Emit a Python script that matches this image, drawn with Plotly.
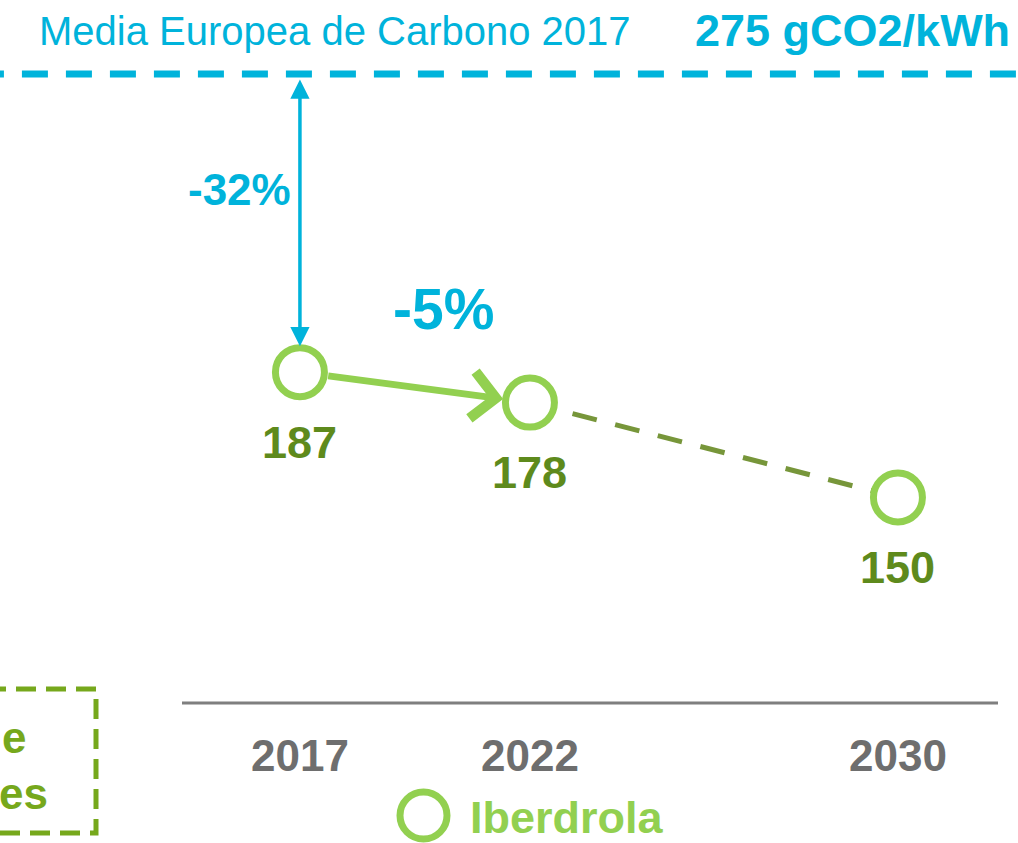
import plotly.graph_objects as go

# ---- data ----
years = [2017, 2022, 2030]
year_labels = ["2017", "2022", "2030"]
intensity = [187, 178, 150]          # gCO2/kWh Iberdrola
eu_avg_2017 = 275                     # gCO2/kWh European average 2017
eu_avg_label = "Media Europea de Carbono 2017"
eu_avg_value_label = "275 gCO2/kWh"
gap_label = "-32%"
change_label = "-5%"
series_name = "Iberdrola"

# ---- styles ----
FONT = "Liberation Sans, Arial, sans-serif"
CYAN = "#00B3DB"
LGREEN = "#92D050"
DGREEN = "#5E8A1C"
OLIVE = "#77963A"
GRAY = "#6E6E6E"
BOXGREEN = "#76A81C"

W, H = 1018, 843

fig = go.Figure()

# European average reference line
fig.add_trace(go.Scatter(
    x=[2010.0, 2033.0], y=[eu_avg_2017, eu_avg_2017], mode="lines",
    line=dict(color=CYAN, width=7, dash="26px,18px"), hoverinfo="skip",
))

# projected dashed segment 2022 -> 2030
fig.add_trace(go.Scatter(
    x=years[1:], y=intensity[1:], mode="lines",
    line=dict(color=OLIVE, width=5, dash="25px,19px"), hoverinfo="skip",
))

# markers
fig.add_trace(go.Scatter(
    x=years, y=intensity, mode="markers", name=series_name,
    marker=dict(symbol="circle", size=49, color="white",
                line=dict(color=LGREEN, width=7)),
))

ann = []
# value labels under markers
for x, v in zip(years, intensity):
    ann.append(dict(x=x, y=v, xref="x", yref="y", text=f"<b>{v}</b>",
                    showarrow=False, yshift=-70, yanchor="middle", xanchor="center",
                    font=dict(family=FONT, size=45, color=DGREEN)))

# -32% double arrow from EU line to 2017 point
ann.append(dict(x=years[0], y=intensity[0], ax=years[0], ay=eu_avg_2017,
                xref="x", yref="y", axref="x", ayref="y", text="",
                showarrow=True, arrowhead=2, startarrowhead=2, arrowside="end+start",
                arrowcolor=CYAN, arrowwidth=3.5, arrowsize=1.1, startarrowsize=1.1,
                standoff=26, startstandoff=4))
ann.append(dict(x=years[0], y=(eu_avg_2017 + intensity[0]) / 2, xref="x", yref="y",
                text=f"<b>{gap_label}</b>", showarrow=False, xshift=-60, yshift=34,
                xanchor="center", yanchor="middle",
                font=dict(family=FONT, size=44, color=CYAN)))

# -5% arrow 2017 -> 2022
ann.append(dict(x=years[1], y=intensity[1], ax=years[0], ay=intensity[0],
                xref="x", yref="y", axref="x", ayref="y", text="",
                showarrow=True, arrowhead=4, arrowcolor=LGREEN, arrowwidth=7,
                arrowsize=1.3, standoff=27, startstandoff=27))
ann.append(dict(x=(years[0] + years[1]) / 2, y=(intensity[0] + intensity[1]) / 2,
                xref="x", yref="y", text=f"<b>{change_label}</b>", showarrow=False,
                xshift=29, yshift=78, xanchor="center", yanchor="middle",
                font=dict(family=FONT, size=57, color=CYAN)))

# header texts
ann.append(dict(x=335 / W, y=1 - 31 / H, xref="paper", yref="paper",
                xanchor="center", yanchor="middle",
                text=eu_avg_label, showarrow=False,
                font=dict(family=FONT, size=40, color=CYAN)))
ann.append(dict(x=1012 / W, y=1 - 31 / H, xref="paper", yref="paper",
                xanchor="right", yanchor="middle",
                text=f"<b>{eu_avg_value_label}</b>", showarrow=False,
                font=dict(family=FONT, size=45, color=CYAN)))

# year tick labels
for x, t in zip(years, year_labels):
    ann.append(dict(x=x, y=1 - 755 / H, xref="x", yref="paper", text=f"<b>{t}</b>",
                    xanchor="center", yanchor="middle",
                    showarrow=False, font=dict(family=FONT, size=44, color=GRAY)))

# legend text
ann.append(dict(x=468 / W, y=1 - 817 / H, xref="paper", yref="paper",
                xanchor="left", yanchor="middle",
                text=f"<b>{series_name}</b>", showarrow=False,
                font=dict(family=FONT, size=45, color=LGREEN)))

# partially visible box text at left edge
ann.append(dict(x=0, y=1 - 737 / H, xref="paper", yref="paper",
                xanchor="left", yanchor="middle",
                text="<b>e</b>", showarrow=False,
                font=dict(family=FONT, size=44, color=BOXGREEN)))
ann.append(dict(x=50 / W, y=1 - 793 / H, xref="paper", yref="paper",
                xanchor="right", yanchor="middle",
                text="<b>es</b>", showarrow=False,
                font=dict(family=FONT, size=44, color=BOXGREEN)))

shapes = [
    # baseline axis
    dict(type="line", xref="paper", yref="paper", x0=182 / W, x1=998 / W,
         y0=1 - 703 / H, y1=1 - 703 / H, line=dict(color="#7F7F7F", width=3)),
    # legend circle
    dict(type="circle", xref="paper", yref="paper",
         x0=400 / W, x1=447 / W, y0=1 - 839 / H, y1=1 - 792 / H,
         line=dict(color=LGREEN, width=7), fillcolor="white"),
    # dashed box at left
    dict(type="rect", xref="paper", yref="paper",
         x0=-30 / W, x1=96 / W, y0=1 - 833 / H, y1=1 - 689 / H,
         line=dict(color=BOXGREEN, width=5, dash="20px,10px")),
]

fig.update_layout(
    width=W, height=H,
    margin=dict(l=0, r=0, t=0, b=0),
    paper_bgcolor="white", plot_bgcolor="white",
    showlegend=False,
    xaxis=dict(range=[2010.48, 2032.61], visible=False, fixedrange=True),
    yaxis=dict(range=[48.0, 296.85], visible=False, fixedrange=True),
    annotations=ann, shapes=shapes,
)

fig.write_html(
    "out.html",
    config={"displayModeBar": False},
    post_script="document.body.style.margin='0px';document.body.style.overflow='hidden';",
)
